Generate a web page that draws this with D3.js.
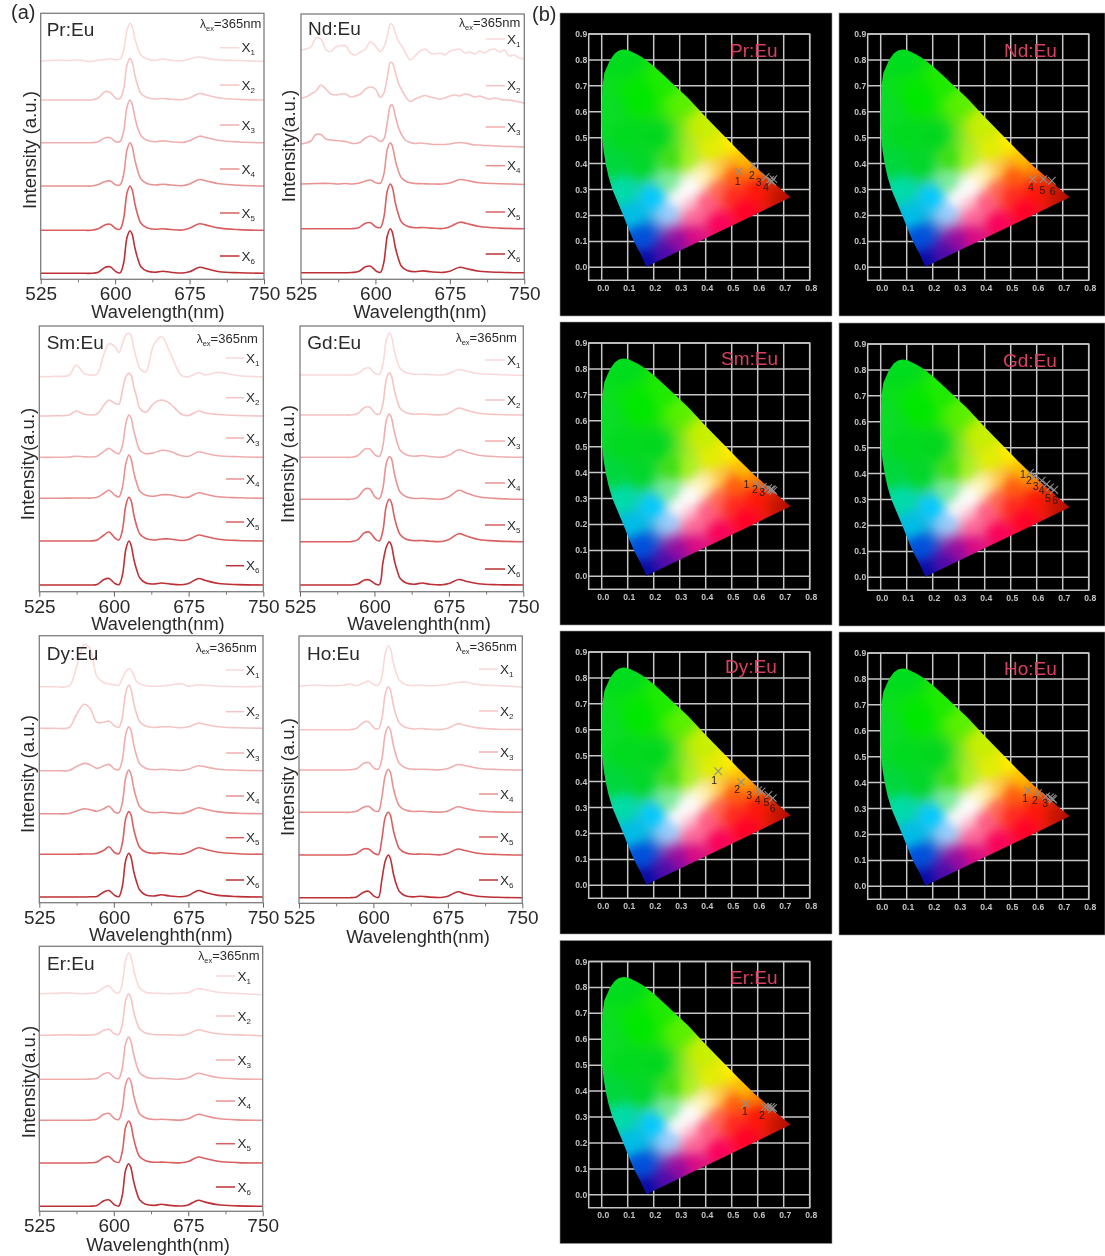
<!DOCTYPE html>
<html><head><meta charset="utf-8">
<script src="https://cdn.jsdelivr.net/npm/d3@7/dist/d3.min.js"></script>
<style>
html,body{margin:0;padding:0;background:#fff}
svg{display:block;filter:blur(0.35px)}
text{font-family:"Liberation Sans",Arial,sans-serif}
</style></head><body><svg id="c" width="1105" height="1256"></svg>
<script>
// ---------- spectra: wavelength grids ----------
const wavelengths=[525,540,555,562,570,576,583,590,595,601,605,608.5,612,615,617,620,623,626,632,640,648,656,668,675,685,692,705,725,750];
const wavelengthsFine=[525,530,535,540,545,550,555,560,565,570,575,580,585,590,595,600,605,608.5,612,615,617,620,623,626,630,635,640,645,650,655,660,665,670,675,680,685,690,695,700,705,710,715,720,725,730,735,740,745,750];
const seriesNames=["1","2","3","4","5","6"];
const seriesColors=["#fad9d9","#f6c4c4","#f0afaf","#e89292","#d95f60","#bd3036"];
// ---------- spectra: intensity above each stacked baseline (a.u.) ----------
const prSpectra=[
[0,.8,.5,1,0,-.5,.8,1.5,2.2,1.2,2,10,31,37.7,35,22,12.5,6,2,.5,2,.7,.3,2,4,2.8,1,.5,-.5],
[0,0,0,0,0,0,2,8.5,7.5,1.5,1.5,11,35,41.7,38.5,24.5,13.5,6.5,2.5,1,1.5,.8,.3,2,6.5,5,2,.6,0],
[0,0,0,0,0,0,1,5,5,.8,1.2,11,36,42.7,39,25,14,7,2.5,1,1.8,1,.3,2,6.5,5,2.2,.7,0],
[0,0,0,0,0,0,1.5,4.5,5,1,1.2,11,36.5,43.3,40,25.5,14.5,7,2.5,1,1.8,1,.3,2,6.5,5,2.2,.7,0],
[0,0,0,0,0,0,1.5,5.5,6,1.5,1.2,11.5,37.5,44.3,41,26,14.5,7,2.5,1,1.5,.8,.3,2.2,6.5,5.2,2.2,.7,0],
[0,0,0,0,0,0,1,6,6.5,1.5,.4,10,36,42.6,39.5,25,14,6.5,2.2,1,2,1,.3,1.5,6,4.5,1.6,.5,0]];
const ndFine1=[0,1,3,12,11,.5,-1.5,3,4.5,4,-3,-5,-2,1,8.5,4,-1.5,3,14,26,25.5,17,9,5,-2,-10,-6,-1,1,-3,-4,-3,-5,-1,0,1,-3,-2,-4,-1,-3,0,1,-2,0,-6,-5,-8,-9];
const ndFine2=[-1,0,3,6,12,8,3,2,3,3,0,1,3,8,10,8,-.5,4,20,34.5,34,25,14,8,1,-4.5,-2,0,1.5,0,-1,-2,-1,1,2,1,3,2,0,1,-1,-2,-1,-2,-3,-3,-4,-5,-6];
const ndFine3=[0,1,3,9.5,9.5,5,4,3.5,3,2.5,1,.5,2,6,8,6,2.5,5,22,38,39,28,17,10,4,1.5,.5,1,.5,0,-.5,-.5,-.5,0,1,1.5,1,0,-1,-1,-1.5,-1.5,-2,-2,-2.5,-2.5,-2.5,-3,-3];
const ndSpectra=[
ndFine1,ndFine2,ndFine3,
[0,.5,.5,0,.5,0,.8,3,4,1,1,10,35,41.3,38,24,13.5,6.5,2,.5,.3,0,0,1,4.5,3.5,1.2,.3,-.5],
[0,0,0,0,0,0,1,5.5,6,1.5,1.2,11.5,38,44.7,41.5,26,15,7,2.5,1,1.2,.6,.2,2,6.5,5.2,2.2,.6,0],
[0,0,0,0,0,.2,1.2,6,6.5,1.5,.3,10.5,37,44,40.5,25.5,14.5,6.8,2.3,1,1.8,.9,.3,1.5,5.5,4,1.5,.4,0]];
const smSpectra=[
[0,.3,1.7,11.7,3.3,1.7,2.5,23,33,30,24,33,41.7,43.4,41.7,28,17,8.3,5,32,40,25,1,0,4,1.7,4.3,1,0],
[0,.3,1,5,1.7,1,2,11,16,12.7,12,26,39,42.7,41,29,18,7.7,3.7,12.7,16,12.7,1.7,.5,5,3,1.5,.5,0],
[0,0,.3,1,.5,.3,1,6,9,5,3.5,12,34,42.3,40,26,15,7,3.5,4.5,7,6,1.5,1,5.5,4,1.5,.5,0],
[0,0,.2,.3,.3,.2,1,5,8,3,1.5,11,35,43.3,40,25.5,14.5,7,3,2,3.5,3.5,1,1.2,5.5,4,1.5,.5,0],
[0,0,0,0,0,0,1,6,9,3,1,11,36,43.7,41,26,14.5,7,2.5,1,2,2,.5,1.5,6,4.5,1.8,.5,0],
[0,0,0,0,0,0,.5,5.5,6.5,1.5,.3,10,36,44,40.5,25.5,14.5,7,2,1,2,1,.3,1.5,6.5,4.5,1.5,.4,0]];
const gdSpectra=[
[0,0,0,0,0,0,1.2,6.5,7,1.5,.8,10.5,35,41.7,39,24.5,13.5,6.5,2.2,.8,.8,.4,0,1.5,5.5,4,1.5,.5,-.5],
[0,0,0,0,0,0,1.5,7.5,8,1.5,1,11,36,42.3,39.5,25,14,6.5,2.3,.8,1,.5,.2,1.8,7,5,1.8,.5,0],
[0,0,0,0,0,0,1.5,8,8.5,2,1,11.5,37,43.3,40,25.5,14.5,7,2.5,1,1.8,.7,.2,2,7.5,5.5,2,.6,0],
[0,0,0,0,0,0,2,10,10.5,2,.8,11,36,42.6,41,26,14.5,7,2.5,.8,1,.5,.2,2.5,9,6.5,2.5,.7,0],
[0,0,0,0,0,0,1.8,9,9.5,2.5,.8,11,36,42.4,39.5,25,14,7,2.5,1,1.2,.5,.2,2.2,8,6,2.2,.6,0],
[0,0,0,0,0,0,1,5,5,1,.3,22,38,43.3,40,25,14,6.5,2,.8,2,.8,.2,1.5,5.5,3.8,1.2,.3,0]];
const dySpectra=[
[0,0,.8,18,42,38,10,4,3,1.7,1.5,8,15,18,17,11.5,5,3,1,.5,.7,1.5,3,.5,2,1.5,.5,0,.5],
[0,0,.8,13,24,20,6,6,7.3,2,1,11,36,43.3,40,25,14,6.5,2.3,.8,1.5,1.5,.5,1.5,5,3.8,1.5,.5,0],
[0,0,.3,4,7.3,6,2.3,5,6.3,1.5,1,11,36.5,44,41,26,14.5,7,2.5,1,1.5,.8,.3,1.5,5,3.8,1.5,.5,0],
[0,0,.2,2.5,5,4,2.5,5,7.5,1.5,.8,11,36.5,43.7,40.5,25.5,14.5,7,2.5,1,1.5,.8,.3,2,6,4.5,1.8,.5,0],
[0,0,0,0,.3,.3,1,4,7.5,1.5,.6,11,36,42.7,40,25,14,6.8,2.3,.9,1.5,.7,.2,2,6.5,5,2,.6,0],
[0,0,0,0,0,.2,.6,5,6.5,1.5,.3,10.5,37,43.7,40.5,25.5,14.5,7,2,1,2.2,1,.3,1.5,6.5,4.5,1.6,.4,0]];
const hoSpectra=[
[0,.8,.3,.3,.8,2,.3,3,5,1,.8,9.5,33,40.3,37.5,23.5,13,6,1.5,.5,.8,.3,.8,1.5,3.5,4,1.5,.5,-1],
[0,0,0,0,0,0,1.5,7.5,8,1.5,1,11,36,43,40,25,14,7,2.5,.8,1.2,.5,.2,1.5,6,4.5,1.8,.5,.2],
[0,0,0,0,0,.2,1.2,6.5,7.5,1.5,1,11,36.5,43.3,40,25,14,6.8,2.3,.7,.8,.5,.2,1.5,5.5,4.5,1.8,.5,0],
[0,0,0,0,0,0,1,5,6,1.5,1,15,37,43,40,24.5,13.5,6.5,2.2,.8,1,.5,.2,1.3,5.5,4,1.6,.4,0],
[0,0,0,0,0,.2,1.5,6,6,1.5,.5,16,38,42.7,40,25,14,6.5,2.2,.8,1,.7,.2,1.8,6,4.5,1.8,.5,0],
[0,0,0,0,0,0,.8,5.5,6.5,1.3,.3,18,37,42.7,39.5,24.5,13.5,6.5,2,.8,1.5,.6,.2,1.5,6,4,1.5,.4,0]];
const erSpectra=[
[0,.3,.8,.3,0,.3,1.5,6,8,1.5,.8,10,34,40.7,38,24,13,6,1.5,.5,.3,0,.5,1.2,5,4,1.5,.2,-1],
[0,.2,.4,.2,.2,.3,1,5,6,1.2,.8,10.5,35,41.6,38.5,24,13.5,6.5,2.2,.7,.6,.4,.2,1.4,5.5,4,1.5,.4,-.5],
[0,0,0,0,0,.2,1,5.5,6.5,1.5,.8,11,36,42.3,39,25,14,6.5,2.3,.8,1,.5,.2,1.5,6,4.5,1.8,.4,0],
[0,0,0,0,0,.2,1.3,6,7,1.5,.8,11,36,42.3,39.5,25,14,6.5,2.3,.8,1,.6,.2,1.5,6,4.5,1.8,.4,0],
[0,0,0,0,0,.2,1,5.5,6.5,1.5,.6,11,36,42,39,24.5,13.5,6.5,2.3,.8,.9,.5,.2,1.5,6,4.5,1.8,.4,0],
[0,0,0,0,0,.1,.8,5.5,6.5,1.3,.3,10.5,36.5,42.6,39.5,25,14,6.5,2,.9,2,.9,.3,1.4,6,4.2,1.5,.4,0]];
// baseline of each stacked trace, a.u.
const prOffsets=[218.3,179.3,136.6,93.3,49,6];
const ndOffsets=[229.3,182.3,135.3,95.3,50.6,6.6];
const smOffsets=[215,175.7,134.4,93.4,50.7,6.7];
const gdOffsets=[216.7,176.7,134.4,92.4,50,6.7];
const dyOffsets=[216,174.4,132,89,48.4,5.7];
const hoOffsets=[217.3,173.6,133.3,91,48.3,5.6];
const erOffsets=[217.6,176,132,91,48.3,5];
const xMajorTicks=[525,600,675,750];
const xMinorTicks=[562.5,637.5,712.5];
// ---------- chromaticity data ----------
const locusX=[.172,.15,.124,.103,.083,.062,.041,.026,.015,.007,.002,0,0,.001,.003,.01,.032,.05,.066,.083,.1,.115,.135,.155,.18,.205,.25,.30,.333,.40,.461,.525,.59,.64,.69,.727];
const locusY=[.002,.05,.1,.15,.2,.25,.3,.35,.4,.45,.5,.55,.6,.65,.7,.75,.8,.825,.836,.84,.838,.832,.822,.81,.792,.772,.73,.683,.652,.58,.517,.452,.388,.345,.30,.27];
const cieTicksX=[0,.1,.2,.3,.4,.5,.6,.7,.8];
const cieTicksY=[0,.1,.2,.3,.4,.5,.6,.7,.8,.9];
const prCieX=[.527,.585,.631,.647,.655,.66], prCieY=[.370,.393,.349,.337,.331,.34];
const ndCieX=[.585,.626,.658], ndCieY=[.34,.34,.334];
const smCieX=[.595,.62,.64,.65,.655,.66], smCieY=[.355,.345,.34,.335,.335,.33];
const gdCieX=[.574,.593,.619,.638,.651,.667], gdCieY=[.403,.391,.373,.359,.347,.337];
const dyCieX=[.448,.536,.602,.615,.641,.658], dyCieY=[.440,.398,.367,.362,.349,.336];
const hoCieX=[.567,.605,.636,.651,.659,.663], hoCieY=[.370,.359,.347,.343,.339,.335];
const erCieX=[.555,.628,.64,.651,.655,.659], erCieY=[.351,.339,.339,.339,.331,.335];
const prCieLabels=["1","2","3","4"], ndCieLabels=["4","5","6"], smCieLabels=["1","2","3"], gdCieLabels=["1","2","3","4","5","6"], dyCieLabels=["1","2","3","4","5","6"], hoCieLabels=["1","2","3"], erCieLabels=["1","2"];
// colour anchors of the diagram: x, y, then r, g, b
const anchorXY=[[.08,.82],[.02,.6],[.15,.65],[.2,.5],[.1,.5],[.05,.4],[.15,.4],[.08,.3],[.2,.27],[.12,.2],[.15,.12],[.17,.02],[.25,.05],[.3,.1],[.35,.12],[.45,.17],[.55,.22],[.6,.3],[.68,.29],[.73,.27],[.6,.38],[.65,.34],[.55,.42],[.5,.48],[.4,.55],[.3,.65],[.25,.7],[.32,.29],[.38,.35],[.29,.26],[.45,.3],[.35,.2],[.26,.22],[.26,.33],[.33,.42],[.42,.45],[.5,.35],[.27,.42],[.45,.38],[.5,.28],[.4,.25],[.345,.315],[.33,.245],[.41,.37]];
const anchorRGB=[[0,220,30],[10,220,40],[0,232,0],[0,215,30],[0,218,30],[0,215,60],[0,215,40],[0,220,170],[0,200,255],[0,190,230],[0,80,220],[10,10,165],[80,10,170],[150,10,160],[220,10,130],[250,0,90],[255,0,40],[255,20,10],[200,20,0],[170,10,0],[255,130,0],[220,50,0],[255,190,0],[255,240,0],[200,240,0],[90,240,0],[30,235,0],[255,255,255],[255,250,200],[255,255,255],[255,100,80],[255,100,150],[150,205,255],[120,235,150],[170,240,30],[225,240,0],[255,90,10],[60,222,20],[255,200,70],[255,40,30],[255,90,130],[255,255,255],[255,190,210],[255,235,150]];

// ---------- layout ----------
const spectraPanels=[
 {title:"Pr:Eu",spectra:prSpectra,offsets:prOffsets,left:40.7,right:264,top:13.3,bottom:279.3,titleX:46.7,titleY:36,lamX:200,lamY:28.3,yLabel:"Intensity (a.u.)",yLX:35.5,yLY:150,xLabel:"Wavelength(nm)",xLX:158,xLY:318,legL:220,legR:239.5,legT:241.5,legY:[47.7,85,125,169,213,256],fine:[]},
 {title:"Nd:Eu",spectra:ndSpectra,offsets:ndOffsets,left:301,right:524.3,top:14,bottom:279.3,titleX:308,titleY:35,lamX:459,lamY:27.3,yLabel:"Intensity(a.u.)",yLX:294.5,yLY:146,xLabel:"Wavelength(nm)",xLX:420,xLY:318,legL:485.7,legR:505,legT:507,legY:[39,85.7,127,165.7,212,254],fine:[0,1,2]},
 {title:"Sm:Eu",spectra:smSpectra,offsets:smOffsets,left:39.3,right:263.3,top:326,bottom:591.7,titleX:46.7,titleY:349,lamX:196.7,lamY:343.3,yLabel:"Intensity(a.u.)",yLX:34,yLY:464,xLabel:"Wavelength(nm)",xLX:158,xLY:629.5,legL:226,legR:244,legT:246,legY:[358,397.7,438,479,522,565.7],fine:[]},
 {title:"Gd:Eu",spectra:gdSpectra,offsets:gdOffsets,left:300,right:523.3,top:326,bottom:591.7,titleX:307.3,titleY:349,lamX:455.7,lamY:342.3,yLabel:"Intensity (a.u.)",yLX:294,yLY:464,xLabel:"Wavelenghth(nm)",xLX:419,xLY:630,legL:485,legR:505,legT:507,legY:[360,400,441,483,525,569],fine:[]},
 {title:"Dy:Eu",spectra:dySpectra,offsets:dyOffsets,left:39.3,right:263,top:635.7,bottom:902.7,titleX:46.7,titleY:660,lamX:195.7,lamY:651.7,yLabel:"Intensity (a.u.)",yLX:34,yLY:774,xLabel:"Wavelenghth(nm)",xLX:160.7,xLY:940.5,legL:226,legR:244,legT:246,legY:[670,711.7,753,796,837.7,880],fine:[]},
 {title:"Ho:Eu",spectra:hoSpectra,offsets:hoOffsets,left:299,right:522.3,top:636,bottom:903.3,titleX:307,titleY:660,lamX:455.7,lamY:651,yLabel:"Intensity (a.u.)",yLX:294,yLY:777,xLabel:"Wavelenghth(nm)",xLX:418,xLY:943,legL:479,legR:498,legT:500,legY:[669,711,752,794,837,880],fine:[]},
 {title:"Er:Eu",spectra:erSpectra,offsets:erOffsets,left:39.3,right:262.7,top:946.3,bottom:1211.3,titleX:47,titleY:970.3,lamX:198.3,lamY:960.3,yLabel:"Intensity(a.u.)",yLX:35,yLY:1082,xLabel:"Wavelenghth(nm)",xLX:158,xLY:1251,legL:216,legR:235,legT:237.5,legY:[976,1016,1060,1101,1143.7,1187],fine:[]}
];
const ciePanels=[
 {title:"Pr:Eu",x0:601.7,y0:267.3,tX:730,tY:56.7,xs:prCieX,ys:prCieY,labels:prCieLabels,off:[[-1,10],[-2,10],[-7,6],[-4,8]]},
 {title:"Nd:Eu",x0:880.7,y0:267.3,tX:1004,tY:56.7,xs:ndCieX,ys:ndCieY,labels:ndCieLabels,off:[[-2,8],[-1,11],[1,11]]},
 {title:"Sm:Eu",x0:601.7,y0:576.3,tX:721,tY:365,xs:smCieX,ys:smCieY,labels:smCieLabels,off:[[-10,0],[-8,3],[-6,4]]},
 {title:"Gd:Eu",x0:880.7,y0:577.3,tX:1003,tY:367,xs:gdCieX,ys:gdCieY,labels:gdCieLabels,off:[[-7,2],[-6,5],[-6,6],[-5,6],[-2,11],[1,11]]},
 {title:"Dy:Eu",x0:601.7,y0:885.3,tX:725,tY:673,xs:dyCieX,ys:dyCieY,labels:dyCieLabels,off:[[-4,9],[-4,7],[-9,5],[-4,9],[-2,8],[0,10]]},
 {title:"Ho:Eu",x0:880.7,y0:886.3,tX:1004,tY:675,xs:hoCieX,ys:hoCieY,labels:hoCieLabels,off:[[-3,8],[-3,7],[-1,7]]},
 {title:"Er:Eu",x0:601.7,y0:1194.8,tX:730,tY:984,xs:erCieX,ys:erCieY,labels:erCieLabels,off:[[-1,8],[-3,9]]}
];

const svg=d3.select("#c");
const dark="#2a2a2a";
svg.append("text").attr("x",11).attr("y",19).attr("font-size",20).attr("fill",dark).text("(a)");
svg.append("text").attr("x",532).attr("y",21).attr("font-size",20).attr("fill",dark).text("(b)");

// ---------- spectra panels ----------
spectraPanels.forEach(p=>{
  const g=svg.append("g");
  const x=d3.scaleLinear().domain([525,750]).range([p.left,p.right]);
  const y=d3.scaleLinear().domain([0,p.bottom-p.top]).range([p.bottom,p.top]);
  p.spectra.forEach((vals,i)=>{
    const grid=p.fine.includes(i)?wavelengthsFine:wavelengths;
    const line=d3.line().x((d,k)=>x(grid[k])).y(d=>y(d+p.offsets[i])).curve(d3.curveCatmullRom.alpha(0.5));
    g.append("path").attr("d",line(vals)).attr("fill","none").attr("stroke",seriesColors[i]).attr("stroke-width",1.6);
  });
  g.append("rect").attr("x",p.left).attr("y",p.top).attr("width",p.right-p.left).attr("height",p.bottom-p.top).attr("fill","none").attr("stroke","#7d7d7d").attr("stroke-width",1.3);
  const ax=g.append("g").attr("transform",`translate(0,${p.bottom})`)
    .call(d3.axisBottom(x).tickValues(xMajorTicks).tickSize(5).tickSizeOuter(0).tickPadding(2.7));
  ax.select(".domain").remove();
  ax.selectAll("line").attr("stroke","#666");
  ax.selectAll("text").attr("font-size",19).attr("font-family",'"Liberation Sans",Arial,sans-serif').attr("fill",dark);
  const ax2=g.append("g").attr("transform",`translate(0,${p.bottom})`)
    .call(d3.axisBottom(x).tickValues(xMinorTicks).tickSize(3).tickSizeOuter(0).tickFormat(""));
  ax2.select(".domain").remove();
  ax2.selectAll("line").attr("stroke","#777");
  g.append("text").attr("x",p.titleX).attr("y",p.titleY).attr("font-size",19).attr("fill",dark).text(p.title);
  g.append("text").attr("x",p.xLX).attr("y",p.xLY).attr("text-anchor","middle").attr("font-size",18.3).attr("fill",dark).text(p.xLabel);
  g.append("text").attr("transform",`translate(${p.yLX},${p.yLY}) rotate(-90)`).attr("text-anchor","middle").attr("font-size",18.6).attr("fill",dark).text(p.yLabel);
  const lam=g.append("text").attr("x",p.lamX).attr("y",p.lamY).attr("font-size",13).attr("fill",dark);
  lam.append("tspan").attr("font-size",12).text("λ");
  lam.append("tspan").attr("font-size",7.5).attr("dy",2.5).text("ex");
  lam.append("tspan").attr("dy",-2.5).text("=365nm");
  seriesNames.forEach((n,i)=>{
    g.append("line").attr("x1",p.legL).attr("x2",p.legR).attr("y1",p.legY[i]).attr("y2",p.legY[i]).attr("stroke",seriesColors[i]).attr("stroke-width",1.5);
    const t=g.append("text").attr("x",p.legT).attr("y",p.legY[i]+4.5).attr("font-size",13.5).attr("fill",dark);
    t.append("tspan").text("X");
    t.append("tspan").attr("font-size",8).attr("dy",3).text(n);
  });
});

// ---------- chromaticity colour field rendered once, clipped per panel ----------
const imgW=221*2,imgH=247*2;
const cv=document.createElement("canvas");cv.width=imgW;cv.height=imgH;
const ctx=cv.getContext("2d");
const im=ctx.createImageData(imgW,imgH);
const ix=d3.scaleLinear().domain([0,imgW]).range([-.05,.8]);
const iy=d3.scaleLinear().domain([0,imgH]).range([.9,-.05]);
for(let j=0;j<imgH;j++){for(let i=0;i<imgW;i++){
  const vx=ix(i),vy=iy(j);let r=0,gg=0,b=0,w=0;
  anchorXY.forEach((a,k)=>{
    const dd=(a[0]-vx)**2+(a[1]-vy)**2+.0005;
    const wt=1/(dd*dd);
    r+=wt*anchorRGB[k][0];gg+=wt*anchorRGB[k][1];b+=wt*anchorRGB[k][2];w+=wt;
  });
  const o=(j*imgW+i)*4;
  im.data[o]=r/w;im.data[o+1]=gg/w;im.data[o+2]=b/w;im.data[o+3]=255;
}}
ctx.putImageData(im,0,0);
const cv2=document.createElement("canvas");cv2.width=imgW;cv2.height=imgH;
const ctx2=cv2.getContext("2d");
ctx2.drawImage(cv,0,0);
ctx2.filter="blur(8px)";
ctx2.drawImage(cv,0,0);
const cieHref=cv2.toDataURL("image/png");
const defs=svg.append("defs");

ciePanels.forEach((p,idx)=>{
  const g=svg.append("g");
  const x=d3.scaleLinear().domain([0,.8]).range([p.x0,p.x0+208]);
  const y=d3.scaleLinear().domain([0,.9]).range([p.y0,p.y0-233.3]);
  const rr=Math.min(p.x0+230.3,1105);
  g.append("rect").attr("x",p.x0-41.7).attr("y",p.y0-254.3).attr("width",rr-(p.x0-41.7)).attr("height",303).attr("fill","#000").attr("stroke","#999").attr("stroke-width",.6);
  const grid="#c6c6c6";
  g.selectAll(".gx").data(cieTicksX).join("line").attr("x1",d=>x(d)).attr("x2",d=>x(d)).attr("y1",y(.9)).attr("y2",y(-.05)).attr("stroke",grid).attr("stroke-width",1.5);
  g.selectAll(".gy").data(cieTicksY).join("line").attr("x1",x(-.05)).attr("x2",x(.8)).attr("y1",d=>y(d)).attr("y2",d=>y(d)).attr("stroke",grid).attr("stroke-width",1.5);
  g.append("rect").attr("x",x(-.05)).attr("y",y(.9)).attr("width",x(.8)-x(-.05)).attr("height",y(-.05)-y(.9)).attr("fill","none").attr("stroke",grid).attr("stroke-width",1.5);
  g.selectAll(".tx").data(cieTicksX).join("text").attr("x",d=>x(d)+1.5).attr("y",y(-.05)+10.5).attr("text-anchor","middle").attr("font-size",8.6).attr("font-weight","bold").attr("fill","#c4c4c4").text(d=>d3.format(".1f")(d));
  g.selectAll(".ty").data(cieTicksY).join("text").attr("x",x(-.05)-1.5).attr("y",d=>y(d)+3).attr("text-anchor","end").attr("font-size",8.6).attr("font-weight","bold").attr("fill","#c4c4c4").text(d=>d3.format(".1f")(d));
  const cid="cl"+idx;
  const locus=d3.line().x((d,k)=>x(locusX[k])).y(d=>y(d)).curve(d3.curveLinearClosed)(locusY);
  defs.append("clipPath").attr("id",cid).append("path").attr("d",locus);
  g.append("image").attr("href",cieHref).attr("x",x(-.05)).attr("y",y(.9)).attr("width",x(.8)-x(-.05)).attr("height",y(-.05)-y(.9)).attr("preserveAspectRatio","none").attr("clip-path",`url(#${cid})`);
  g.append("text").attr("x",p.tX).attr("y",p.tY).attr("font-size",19).attr("fill","#d9405f").text(p.title);
  p.xs.forEach((vx,i)=>{
    const cx=x(vx),cy=y(p.ys[i]),s=3.8;
    g.append("path").attr("d",`M${cx-s},${cy-s}L${cx+s},${cy+s}M${cx-s},${cy+s}L${cx+s},${cy-s}`).attr("stroke","#8f8f8f").attr("stroke-width",1.1).attr("fill","none");
  });
  p.labels.forEach((l,i)=>{
    g.append("text").attr("x",x(p.xs[i])+p.off[i][0]).attr("y",y(p.ys[i])+p.off[i][1]+3.5).attr("text-anchor","middle").attr("font-size",10.5).attr("fill","#2a1a1a").text(l);
  });
});
</script></body></html>
